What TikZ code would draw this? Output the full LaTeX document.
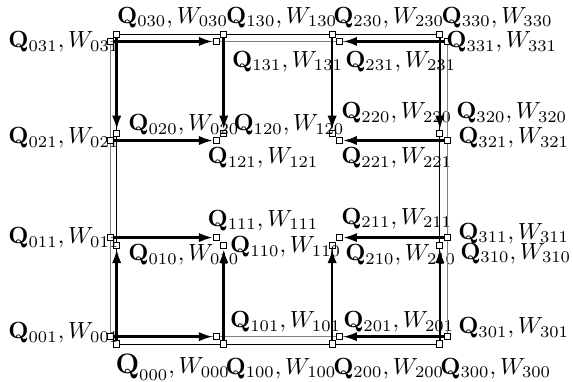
\documentclass[tikz,border=0pt]{standalone}
\usepackage{amsmath, amssymb}
\usetikzlibrary{arrows.meta}
\definecolor{back}{rgb}{0.5,0.5,0.5}

\begin{document}
\begin{tikzpicture}[
		sq/.style = {rectangle, draw, thin, fill=white, inner sep=0pt, minimum size=2.6pt},
		lab/.style = {anchor=west, inner sep=0pt},
		fl/.style = {-{Latex[length=6pt, width=4pt]}, line width=1.1pt},
		fr/.style = {thin, black},
		fr1/.style = {thin, back}
		]
		\useasboundingbox (-1.755, -0.571) rectangle (6.862, 5.173);
		
		%Nodes, front layer
		\node[sq]	(q000)	at	(0, 0)		{};
		\node[sq]	(q100)	at	(1.61, 0)	{};
		\node[sq]	(q200)	at	(3.24, 0)	{};
		\node[sq]	(q300)	at	(4.86, 0)	{};
		\node[sq]	(q010)	at	(0, 1.48)	{};
		\node[sq]	(q110)	at	(1.61, 1.48)	{};
		\node[sq]	(q210)	at	(3.24, 1.48)	{};
		\node[sq]	(q310)	at	(4.86, 1.48)	{};
		\node[sq]	(q020)	at	(0, 3.17)	{};
		\node[sq]	(q120)	at	(1.61, 3.17)	{};
		\node[sq]	(q220)	at	(3.24, 3.17)	{};
		\node[sq]	(q320)	at	(4.86, 3.17)	{};
		\node[sq]	(q030)	at	(0, 4.66)	{};
		\node[sq]	(q130)	at	(1.61, 4.66)	{};
		\node[sq]	(q230)	at	(3.24, 4.66)	{};
		\node[sq]	(q330)	at	(4.86, 4.66)	{};
		
		%Nodes, back layer
		\node[sq]	(q001)	at	(-0.09, 0.11)	{};
		\node[sq]	(q101)	at	(1.50, 0.11)	{};
		\node[sq]	(q201)	at	(3.35, 0.11)	{};
		\node[sq]	(q301)	at	(4.97, 0.11)	{};
		\node[sq]	(q011)	at	(-0.09, 1.60)	{};
		\node[sq]	(q111)	at	(1.50, 1.60)	{};
		\node[sq]	(q211)	at	(3.35, 1.60)	{};
		\node[sq]	(q311)	at	(4.97, 1.60)	{};
		\node[sq]	(q021)	at	(-0.09, 3.06)	{};
		\node[sq]	(q121)	at	(1.50, 3.06)	{};
		\node[sq]	(q221)	at	(3.35, 3.06)	{};
		\node[sq]	(q321)	at	(4.97, 3.06)	{};
		\node[sq]	(q031)	at	(-0.09, 4.55)	{};
		\node[sq]	(q131)	at	(1.50, 4.55)	{};
		\node[sq]	(q231)	at	(3.35, 4.55)	{};
		\node[sq]	(q331)	at	(4.97, 4.55)	{};
		
		%Labels
		\node[lab]	(l030)	at	(0.00, 4.91)	{$\mathbf{Q}_{030}, W_{030}$};
		\node[lab]	(l130)	at	(1.64, 4.91)	{$\mathbf{Q}_{130}, W_{130}$};
		\node[lab]	(l230)	at	(3.25, 4.91)	{$\mathbf{Q}_{230}, W_{230}$};
		\node[lab]	(l330)	at	(4.88, 4.91)	{$\mathbf{Q}_{330}, W_{330}$};
		\node[lab]	(l031)	at	(-1.635, 4.54)	{$\mathbf{Q}_{031}, W_{031}$};
		\node[lab]	(l131)	at	(1.73, 4.25)	{$\mathbf{Q}_{131}, W_{131}$};
		\node[lab]	(l231)	at	(3.43, 4.25)	{$\mathbf{Q}_{231}, W_{231}$};
		\node[lab]	(l331)	at	(4.95, 4.54)	{$\mathbf{Q}_{331}, W_{331}$};
		\node[lab]	(l020)	at	(0.17, 3.29)	{$\mathbf{Q}_{020}, W_{020}$};
		\node[lab]	(l120)	at	(1.75, 3.29)	{$\mathbf{Q}_{120}, W_{120}$};
		\node[lab]	(l220)	at	(3.37, 3.47)	{$\mathbf{Q}_{220}, W_{220}$};
		\node[lab]	(l320)	at	(5.10, 3.47)	{$\mathbf{Q}_{320}, W_{320}$};
		\node[lab]	(l021)	at	(-1.635, 3.10)	{$\mathbf{Q}_{021}, W_{021}$};
		\node[lab]	(l121)	at	(1.36, 2.80)	{$\mathbf{Q}_{121}, W_{121}$};
		\node[lab]	(l221)	at	(3.37, 2.80)	{$\mathbf{Q}_{221}, W_{221}$};
		\node[lab]	(l321)	at	(5.13, 3.10)	{$\mathbf{Q}_{321}, W_{321}$};
		\node[lab]	(l011)	at	(-1.635, 1.59)	{$\mathbf{Q}_{011}, W_{011}$};
		\node[lab]	(l111)	at	(1.36, 1.86)	{$\mathbf{Q}_{111}, W_{111}$};
		\node[lab]	(l211)	at	(3.37, 1.89)	{$\mathbf{Q}_{211}, W_{211}$};
		\node[lab]	(l311)	at	(5.13, 1.66)	{$\mathbf{Q}_{311}, W_{311}$};
		\node[lab]	(l010)	at	(0.17, 1.34)	{$\mathbf{Q}_{010}, W_{010}$};
		\node[lab]	(l110)	at	(1.70, 1.46)	{$\mathbf{Q}_{110}, W_{110}$};
		\node[lab]	(l210)	at	(3.43, 1.34)	{$\mathbf{Q}_{210}, W_{210}$};
		\node[lab]	(l310)	at	(5.16, 1.36)	{$\mathbf{Q}_{310}, W_{310}$};
		\node[lab]	(l001)	at	(-1.635, 0.165)	{$\mathbf{Q}_{001}, W_{001}$};
		\node[lab]	(l101)	at	(1.70, 0.33)	{$\mathbf{Q}_{101}, W_{101}$};
		\node[lab]	(l201)	at	(3.40, 0.33)	{$\mathbf{Q}_{201}, W_{201}$};
		\node[lab]	(l301)	at	(5.13, 0.24)	{$\mathbf{Q}_{301}, W_{301}$};
		\node[lab]	(l000)	at	(-0.025, -0.35)	{$\mbox{\large$\mathbf{Q}$}_{000}, W_{000}$};
		\node[lab]	(l100)	at	(1.63, -0.37)	{$\mathbf{Q}_{100}, W_{100}$};
		\node[lab]	(l200)	at	(3.25, -0.37)	{$\mathbf{Q}_{200}, W_{200}$};
		\node[lab]	(l300)	at	(4.86, -0.37)	{$\mathbf{Q}_{300}, W_{300}$};
		
		%Frames
		\draw[fr1]	(q031) -- (q131) -- (q231) -- (q331) -- (q321) -- (q311) -- (q301)
					-- (q201) -- (q101) -- (q001) -- (q011) -- (q021) -- (q031);
		\draw[fr]	(q030) -- (q130) -- (q230) -- (q330) -- (q320) -- (q310) -- (q300)
					-- (q200) -- (q100) -- (q000) -- (q010) -- (q020) -- (q030);
		
		%Flows
		\draw[fl]	(q031)	--	(q131);
		\draw[fl]	(q021)	--	(q121);
		\draw[fl]	(q030)	--	(q020);
		\draw[fl]	(q130)	--	(q120);
		\draw[fl]	(q331)	--	(q231);
		\draw[fl]	(q321)	--	(q221);
		\draw[fl]	(q230)	--	(q220);
		\draw[fl]	(q330)	--	(q320);
		\draw[fl]	(q011)	--	(q111);
		\draw[fl]	(q001)	--	(q101);
		\draw[fl]	(q000)	--	(q010);
		\draw[fl]	(q100)	--	(q110);
		\draw[fl]	(q311)	--	(q211);
		\draw[fl]	(q301)	--	(q201);
		\draw[fl]	(q200)	--	(q210);
		\draw[fl]	(q300)	--	(q310);
	\end{tikzpicture}
\end{document}
